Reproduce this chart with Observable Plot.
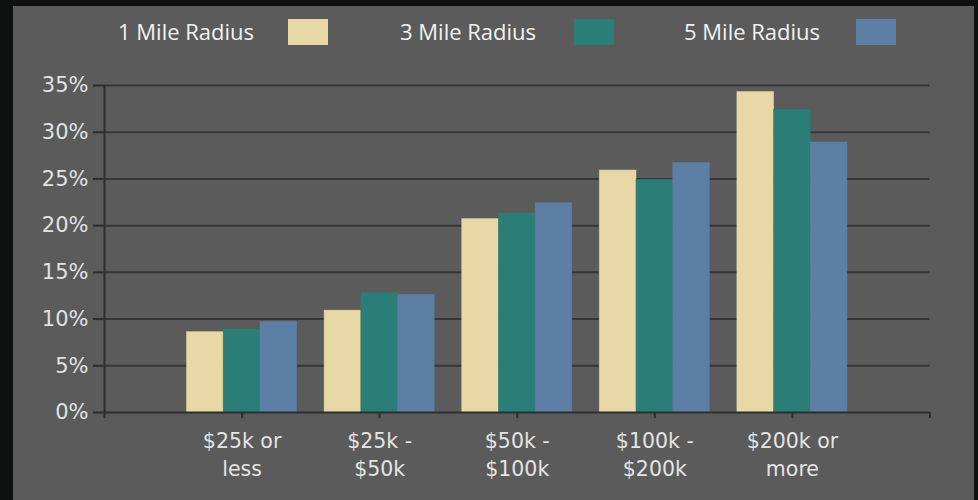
<!DOCTYPE html>
<html><head><meta charset="utf-8">
<script src="https://cdn.jsdelivr.net/npm/d3@7"></script>
<script src="https://cdn.jsdelivr.net/npm/@observablehq/plot@0.6"></script>
<style>
html,body{margin:0;padding:0;background:#0f1110;width:978px;height:500px;overflow:hidden}
#frame{position:absolute;left:13px;top:6px;width:961px;height:494px;background:#5a5b5a;overflow:hidden}
#legend{position:relative;height:54px;font-family:"Open Sans",sans-serif;font-size:22px;color:#f2f2f2}
.lt{position:absolute;top:10px;line-height:30px;white-space:nowrap}
.sw{position:absolute;top:13px;width:40px;height:26px}
#chart svg{display:block}
</style>
</head><body>
<div id="frame"><div id="legend"></div><div id="chart"></div></div>
<script>
const categories = ["$25k or\nless", "$25k -\n$50k", "$50k -\n$100k", "$100k -\n$200k", "$200k or\nmore"];
const series = ["1 Mile Radius", "3 Mile Radius", "5 Mile Radius"];
const mile1 = [8.6, 10.9, 20.7, 25.9, 34.3];
const mile3 = [8.9, 12.8, 21.3, 24.9, 32.4];
const mile5 = [9.7, 12.6, 22.4, 26.7, 28.9];
const yTicks = [0, 5, 10, 15, 20, 25, 30, 35];
const colors = ["#e8d8a5", "#2a7e77", "#5d7ea5"];

const values = [mile1, mile3, mile5];
const rows = [];
categories.forEach((c, i) => series.forEach((s, k) => rows.push({cat: c, idx: i + 1, s: k, series: s, value: values[k][i]})));

// legend
const legendPos = [[105, 275], [387, 561], [671, 843]];
const lg = document.getElementById("legend");
series.forEach((s, k) => {
  const t = document.createElement("div"); t.className = "lt"; t.textContent = s; t.style.left = legendPos[k][0] + "px"; lg.appendChild(t);
  const w = document.createElement("div"); w.className = "sw"; w.style.left = legendPos[k][1] + "px"; w.style.background = colors[k]; lg.appendChild(w);
});

const bw = 0.8 / 3;
const chart = Plot.plot({
  width: 961, height: 440,
  marginLeft: 91, marginRight: 44.5, marginTop: 25, marginBottom: 88,
  style: {background: "transparent", fontFamily: "DejaVu Sans", color: "#e4e4e4"},
  x: {domain: [0, 6], axis: null},
  y: {domain: [0, 35], axis: null},
  color: {domain: series, range: colors},
  marks: [
    Plot.ruleY(yTicks.filter(d => d > 0), {x1: 0, x2: 6, stroke: "#363636", strokeWidth: 2}),
    Plot.rectY(rows, {x1: d => d.idx - 0.4 + d.s * bw, x2: d => d.idx - 0.4 + (d.s + 1) * bw, y1: 0, y2: "value", fill: "series", stroke: "series", strokeOpacity: 0.6, strokeWidth: 0.8}),
    Plot.ruleY([0], {x1: 0, x2: 6, stroke: "#2e2e2e", strokeWidth: 2}),
    Plot.ruleX([0], {y1: 0, y2: 35, stroke: "#2e2e2e", strokeWidth: 2}),
    Plot.axisY({ticks: yTicks, tickSize: 11, tickPadding: 5, tickFormat: d => d + "%", fontSize: 21, stroke: "#2e2e2e", strokeWidth: 2, fill: "#e0e2e4", label: null}),
    Plot.axisX({ticks: [0, 1, 2, 3, 4, 5, 6], tickSize: 6, tickFormat: () => "", stroke: "#2e2e2e", strokeWidth: 2, label: null}),
    Plot.text(categories, {x: (d, i) => i + 1, y: 0, text: d => d, dy: 15, lineAnchor: "top", lineHeight: 1.38, fontSize: 20.5, fill: "#e4e4e4"})
  ]
});
document.getElementById("chart").appendChild(chart);
</script>
</body></html>
